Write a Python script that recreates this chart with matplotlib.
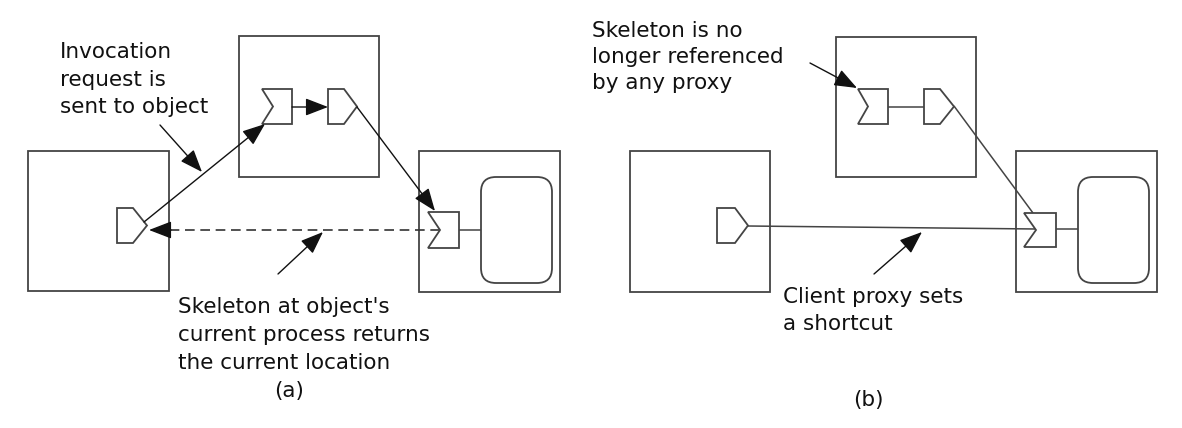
import matplotlib
matplotlib.use("Agg")
import matplotlib.pyplot as plt
from matplotlib.patches import Polygon, Rectangle, FancyBboxPatch, FancyArrowPatch, ArrowStyle

# ---- diagram content (pixel coordinates, y downwards) ----
boxes = [  # (x0, y0, x1, y1)
    (28, 151, 169, 291), (239, 36, 379, 177), (419, 151, 560, 292),      # (a)
    (630, 151, 770, 292), (836, 37, 976, 177), (1016, 151, 1157, 292),   # (b)
]
objects = [(481, 177, 552, 283), (1078, 177, 1149, 283)]  # rounded rects
skeletons = [  # (x0, x1, notch_x, y0, y1)
    (262, 292, 273, 89, 124), (428, 459, 440, 212, 248),
    (858, 888, 868, 89, 124), (1024, 1056, 1036, 213, 247),
]
proxies = [  # (x0, shoulder_x, tip_x, y0, y1)
    (328, 344, 357, 89, 124), (117, 133, 147, 208, 243),
    (924, 940, 954, 89, 124), (717, 735, 748, 208, 243),
]
plain_lines = [  # (x0, y0, x1, y1)
    (459, 230, 481, 230),
    (888, 107, 924, 107), (954, 106, 1033, 213), (748, 226, 1036, 229),
    (1056, 229, 1078, 229),
]
head_lines = [  # arrows with filled heads (x0, y0, x1, y1)
    (292, 107, 328, 107), (144, 222, 265, 124), (357, 107, 435, 211),
    (160, 125, 202, 172), (278, 274, 323, 232),
    (874, 274, 922, 232), (810, 63, 857, 88),
]
dashed_arrows = [(440, 230, 149, 230)]
text_lines = [  # (x, baseline_y, text, ha)
    (60, 58, "Invocation", "left"), (60, 86, "request is", "left"),
    (60, 113, "sent to object", "left"),
    (178, 313, "Skeleton at object's", "left"),
    (178, 341, "current process returns", "left"),
    (178, 369, "the current location", "left"),
    (289, 397, "(a)", "center"),
    (592, 37, "Skeleton is no", "left"), (592, 63, "longer referenced", "left"),
    (592, 89, "by any proxy", "left"),
    (783, 303, "Client proxy sets", "left"), (783, 330, "a shortcut", "left"),
    (868, 406, "(b)", "center"),
]

LINE = "#444444"
W, H = 1182, 428
fig = plt.figure(figsize=(W / 100, H / 100), dpi=100)
ax = fig.add_axes([0, 0, 1, 1])
ax.set_xlim(0, W)
ax.set_ylim(H, 0)
ax.axis("off")
fig.patch.set_facecolor("white")

for x0, y0, x1, y1 in boxes:
    ax.add_patch(Rectangle((x0, y0), x1 - x0, y1 - y0, fill=False,
                           edgecolor=LINE, lw=1.3, zorder=1))
for x0, y0, x1, y1 in objects:
    ax.add_patch(FancyBboxPatch((x0, y0), x1 - x0, y1 - y0,
                                boxstyle="round,pad=0,rounding_size=15",
                                fill=False, edgecolor=LINE, lw=1.3, zorder=1))
for x0, y0, x1, y1 in plain_lines:
    ax.plot([x0, x1], [y0, y1], color=LINE, lw=1.1, zorder=2,
            solid_capstyle="butt")

style = ArrowStyle("-|>", head_length=14, head_width=5.4)
for x0, y0, x1, y1 in head_lines:
    ax.add_patch(FancyArrowPatch((x0, y0), (x1, y1), arrowstyle=style,
                                 mutation_scale=1, shrinkA=0, shrinkB=0,
                                 color="#111111", lw=1.0, zorder=4))
for x0, y0, x1, y1 in dashed_arrows:
    ax.plot([x0, x1 + 15], [y0, y1], color="#333333", lw=1.2,
            dashes=(5.8, 3.4), zorder=2)
    ax.add_patch(FancyArrowPatch((x1 + 22, y1), (x1, y1), arrowstyle=style,
                                 mutation_scale=1, shrinkA=0, shrinkB=0,
                                 color="#111111", lw=1.0, zorder=4))

for x0, x1, nx, y0, y1 in skeletons:
    ym = (y0 + y1) / 2
    ax.add_patch(Polygon([(x0, y0), (x1, y0), (x1, y1), (x0, y1), (nx, ym)],
                         closed=True, facecolor="white", edgecolor=LINE,
                         lw=1.3, zorder=3))
for x0, sx, tx, y0, y1 in proxies:
    ym = (y0 + y1) / 2
    ax.add_patch(Polygon([(x0, y0), (sx, y0), (tx, ym), (sx, y1), (x0, y1)],
                         closed=True, facecolor="white", edgecolor=LINE,
                         lw=1.3, zorder=3))

for x, y, s, ha in text_lines:
    ax.text(x, y, s, ha=ha, va="baseline", fontsize=15.5,
            family="DejaVu Sans", color="#111111", zorder=5)

fig.savefig("out.png", dpi=100, facecolor="white")
